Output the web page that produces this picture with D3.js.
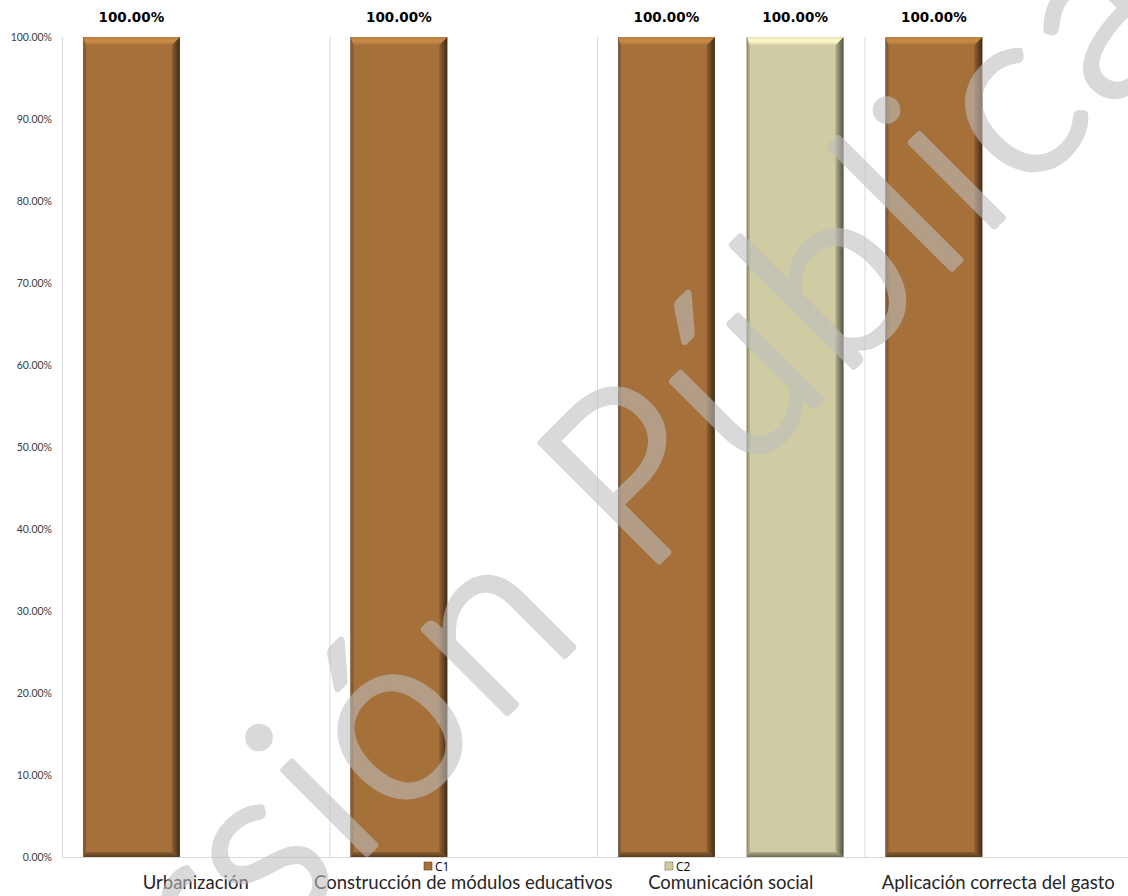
<!DOCTYPE html>
<html>
<head>
<meta charset="utf-8">
<script src="https://cdn.jsdelivr.net/npm/d3@7/dist/d3.min.js"></script>
<style>
  body { margin: 0; background: #fff; }
</style>
</head>
<body>
<div class="barChart"></div>
<script>
const categories = ["Urbanización", "Construcción de módulos educativos", "Comunicación social", "Aplicación correcta del gasto"];
const seriesNames = ["C1", "C2"];
const c1Values = [1, 1, 1, 1];
const c2Values = [null, null, 1, null];
const yTicks = [0, 0.1, 0.2, 0.3, 0.4, 0.5, 0.6, 0.7, 0.8, 0.9, 1];
const seriesColors = ["#a57039", "#cfcba3"];
const watermark = "Versión Pública";

const width = 1128, height = 896;
const margin = { top: 37, right: -4, bottom: 39, left: 62 };
const innerH = height - margin.top - margin.bottom;

const svg = d3.select(".barChart").append("svg")
  .attr("width", width).attr("height", height)
  .style("font-family", "Lato, 'Open Sans', sans-serif");

// bevel gradients for each series
const defs = svg.append("defs");
seriesColors.forEach((c, i) => {
  const base = d3.color(c);
  const r = defs.append("linearGradient").attr("id", "right" + i)
    .attr("x1", 0).attr("x2", 1).attr("y1", 0).attr("y2", 0);
  r.append("stop").attr("offset", 0).attr("stop-color", base.darker(0.4));
  r.append("stop").attr("offset", 1).attr("stop-color", base.darker(2.6));
  const t = defs.append("linearGradient").attr("id", "top" + i)
    .attr("x1", 0).attr("x2", 0).attr("y1", 0).attr("y2", 1);
  t.append("stop").attr("offset", 0).attr("stop-color", base.brighter(0.3));
  t.append("stop").attr("offset", 0.5).attr("stop-color", base.brighter(0.6));
  t.append("stop").attr("offset", 1).attr("stop-color", base.brighter(0.1));
  const b = defs.append("linearGradient").attr("id", "bottom" + i)
    .attr("x1", 0).attr("x2", 0).attr("y1", 0).attr("y2", 1);
  b.append("stop").attr("offset", 0).attr("stop-color", base.darker(0.5));
  b.append("stop").attr("offset", 1).attr("stop-color", base.darker(1.8));
});

const x0 = d3.scaleBand().domain(categories).range([margin.left, 1132]).padding(0);
const x1 = d3.scaleBand().domain(seriesNames).range([0, x0.bandwidth()])
  .paddingInner(0.248).paddingOuter(0.163);
const y = d3.scaleLinear().domain([0, 1]).range([margin.top + innerH, margin.top]);

// vertical grid lines at category edges
svg.append("g").selectAll("line")
  .data(categories)
  .enter().append("line")
  .attr("x1", d => x0(d) + 0.5).attr("x2", d => x0(d) + 0.5)
  .attr("y1", y(1)).attr("y2", y(0))
  .attr("stroke", "#d9d9d9");

svg.append("line")
  .attr("x1", margin.left).attr("x2", width)
  .attr("y1", y(0) + 0.5).attr("y2", y(0) + 0.5)
  .attr("stroke", "#d9d9d9");

// y axis labels
const yAxis = d3.axisLeft(y).tickValues(yTicks).tickFormat(d3.format(".2%")).tickSize(0).tickPadding(10);
const yG = svg.append("g").attr("transform", "translate(" + margin.left + ",0)").call(yAxis);
yG.select(".domain").remove();
yG.selectAll("text").attr("fill", "#404040").style("font-size", "10.5px")
  .style("font-family", "Lato, sans-serif");

// category labels
svg.append("g").selectAll("text")
  .data(categories)
  .enter().append("text")
  .attr("x", d => x0(d) + x0.bandwidth() / 2)
  .attr("y", 889)
  .attr("text-anchor", "middle")
  .attr("fill", "#262626")
  .style("font-size", "18.5px")
  .text(d => d);

const rows = [];
categories.forEach((c, i) => {
  [c1Values, c2Values].forEach((vals, s) => {
    if (vals[i] != null) rows.push({ category: c, series: seriesNames[s], s: s, value: vals[i] });
  });
});

const bar = svg.append("g").selectAll(".bar")
  .data(rows)
  .enter().append("g")
  .attr("class", "bar");

const bw = x1.bandwidth(), e = 8;
const bx = d => x0(d.category) + x1(d.series);

bar.append("rect")
  .attr("x", bx).attr("y", d => y(d.value))
  .attr("width", bw).attr("height", d => y(0) - y(d.value))
  .attr("fill", d => seriesColors[d.s]);
// left edge
bar.append("polygon")
  .attr("points", d => {
    const x = bx(d), t = y(d.value), b = y(0);
    return [[x, t], [x + 3, t + e], [x + 3, b - 5], [x, b]].join(" ");
  })
  .attr("fill", d => d3.color(seriesColors[d.s]).darker(0.6));
// right edge
bar.append("polygon")
  .attr("points", d => {
    const x = bx(d) + bw, t = y(d.value), b = y(0);
    return [[x, t], [x, b], [x - e, b - 5], [x - e, t + e]].join(" ");
  })
  .attr("fill", d => "url(#right" + d.s + ")");
// top bevel
bar.append("polygon")
  .attr("points", d => {
    const x = bx(d), t = y(d.value);
    return [[x, t], [x + bw, t], [x + bw - e, t + e], [x + 3, t + e]].join(" ");
  })
  .attr("fill", d => "url(#top" + d.s + ")");
// bottom bevel
bar.append("polygon")
  .attr("points", d => {
    const x = bx(d), b = y(0);
    return [[x, b], [x + 3, b - 5], [x + bw - e, b - 5], [x + bw, b]].join(" ");
  })
  .attr("fill", d => "url(#bottom" + d.s + ")");
bar.append("line")
  .attr("x1", d => bx(d) + 0.5).attr("x2", d => bx(d) + 0.5)
  .attr("y1", d => y(d.value)).attr("y2", y(0))
  .attr("stroke", "#6e6e6e").attr("stroke-opacity", 0.6);

// value labels
bar.append("text")
  .attr("x", d => bx(d) + bw / 2)
  .attr("y", d => y(d.value) - 15)
  .attr("text-anchor", "middle")
  .style("font-family", "'DejaVu Sans', Verdana, sans-serif")
  .style("font-weight", "bold")
  .style("font-size", "13.5px")
  .attr("fill", "#000")
  .text(d => d3.format(".2%")(d.value));

// legend
const lx = d3.scalePoint().domain(seriesNames).range([424, 665]);
const leg = svg.append("g").selectAll("g")
  .data(seriesNames)
  .enter().append("g")
  .attr("transform", d => "translate(" + lx(d) + ",862)");
leg.append("rect").attr("width", 8).attr("height", 8)
  .attr("fill", (d, i) => seriesColors[i])
  .attr("stroke", (d, i) => d3.color(seriesColors[i]).darker(1.5)).attr("stroke-width", 0.6);
leg.append("text").attr("x", 11).attr("y", 9)
  .style("font-family", "'Open Sans', sans-serif").style("font-size", "12px")
  .attr("fill", "#000").text(d => d);

// watermark along the diagonal; light face thickened with a stroke, faded as one layer
const wmG = svg.append("g").attr("opacity", 0.58);
const wm = wmG.append("text")
  .attr("transform", "translate(610,610) rotate(-45)")
  .style("font-family", "Lato, sans-serif")
  .style("font-size", "236px")
  .style("font-weight", 300)
  .attr("fill", "#bebebe")
  .attr("stroke", "#bebebe")
  .attr("stroke-width", 7)
  .attr("stroke-linejoin", "round")
  .text(watermark);
const wn = wm.node();
const pIdx = watermark.indexOf("P"), iIdx = watermark.lastIndexOf("i");
const gap0 = wn.getStartPositionOfChar(iIdx).x - wn.getStartPositionOfChar(pIdx).x;
const ls = (478 - gap0) / (iIdx - pIdx);
wm.style("letter-spacing", ls + "px");
const pStart = wn.getStartPositionOfChar(pIdx).x;
wm.attr("x", 45 - pStart);
</script>
</body>
</html>
